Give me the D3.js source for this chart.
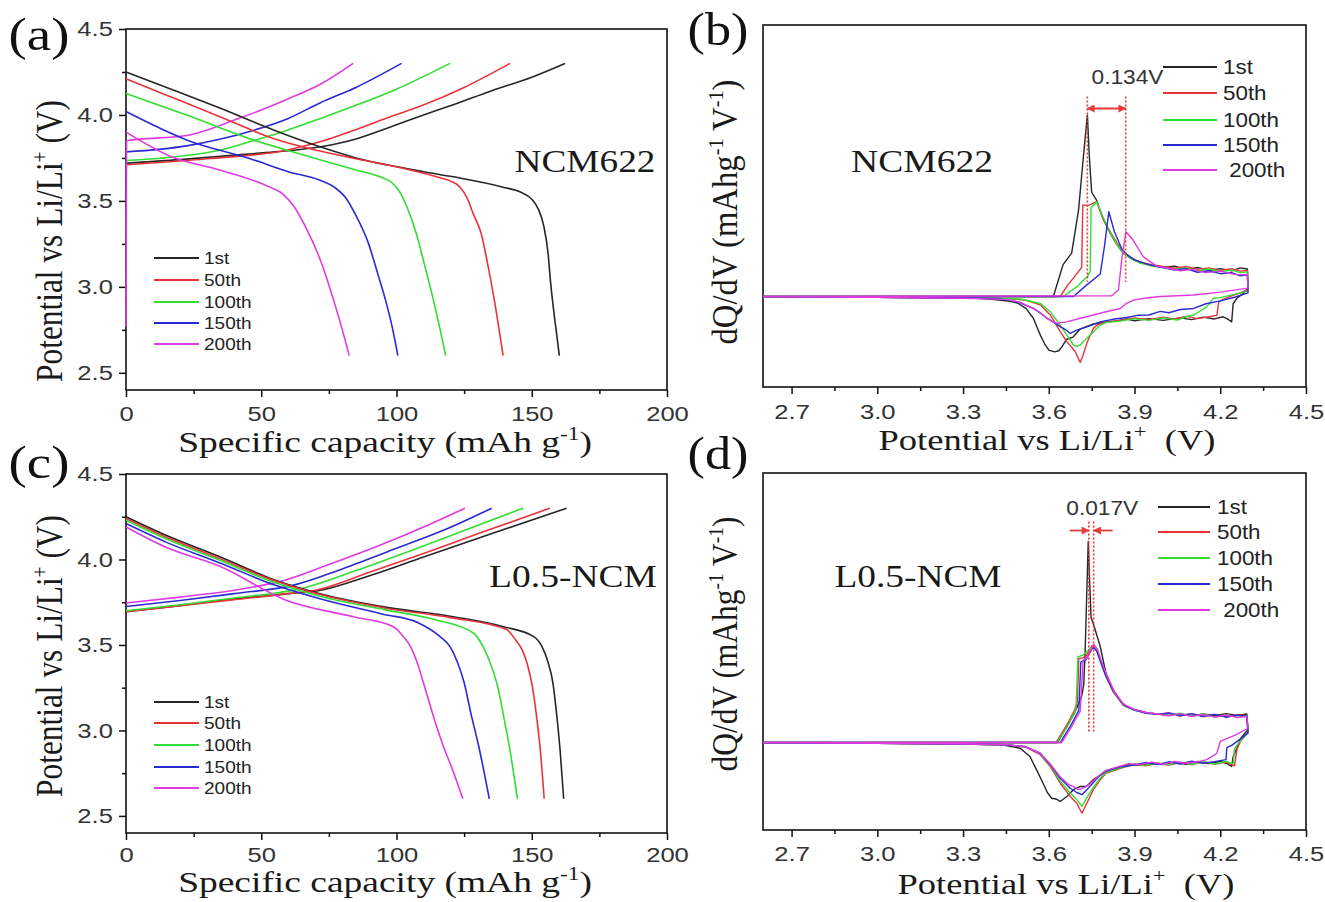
<!DOCTYPE html>
<html>
<head>
<meta charset="utf-8">
<script src="https://d3js.org/d3.v7.min.js"></script>
<style>
body { margin: 0; background: #fff; }
text { white-space: pre; }
</style>
</head>
<body>
<svg id="fig"></svg>
<script>

// ---- data ----
var cycles = ["1st", "50th", "100th", "150th", "200th"];
var dqLegend = ["1st", "50th", "100th", "150th", " 200th"];
var cycleColors = ["#262626", "#e8333a", "#33dd33", "#2a2ad2", "#e03ae0"];

var capTicks = [0, 50, 100, 150, 200];
var capMinor = [25, 75, 125, 175];
var voltTicks = [2.5, 3.0, 3.5, 4.0, 4.5];
var voltMinor = [2.75, 3.25, 3.75, 4.25];
var potTicks = [2.7, 3.0, 3.3, 3.6, 3.9, 4.2, 4.5];
var potMinor = [2.85, 3.15, 3.45, 3.75, 4.05, 4.35];

// capacity (mAh/g), potential (V)
var ncmCharge = [
  [[0,3.72],[20,3.74],[35,3.76],[55,3.785],[72,3.815],[85,3.86],[96,3.92],[110,4.0],[121,4.06],[135,4.14],[150,4.22],[162.3,4.30]],
  [[0,3.71],[30,3.745],[59.4,3.795],[72,3.845],[84,3.91],[96,3.98],[108.7,4.05],[125,4.16],[142,4.30]],
  [[0,3.735],[20,3.76],[34.7,3.795],[47,3.85],[59.4,3.91],[72,3.98],[84,4.05],[100,4.15],[119.8,4.30]],
  [[0,3.785],[22.4,3.82],[35,3.86],[47,3.91],[60,3.98],[71.7,4.07],[85,4.16],[101.9,4.30]],
  [[0,2.77],[0.2,3.85],[22.4,3.88],[40.9,3.975],[59.4,4.09],[72,4.18],[84,4.30]]
];
var ncmDischarge = [
  [[0,4.25],[15,4.16],[34.7,4.04],[55,3.91],[71.7,3.815],[85,3.75],[96.4,3.71],[110,3.67],[121,3.64],[139.4,3.58],[146,3.55],[150,3.51],[152.5,3.45],[154.5,3.35],[156,3.2],[157,3.02],[158.6,2.8],[160.2,2.6]],
  [[0,4.21],[15,4.115],[34.7,3.99],[55,3.86],[71.7,3.79],[85,3.745],[96.4,3.71],[114.8,3.64],[120,3.615],[123.5,3.58],[126,3.52],[128.5,3.42],[131.3,3.31],[133.5,3.15],[136.2,2.92],[139.4,2.6]],
  [[0,4.125],[22.4,4.0],[47,3.855],[71.7,3.74],[85,3.68],[93.9,3.64],[98,3.61],[101.3,3.55],[104,3.46],[107.3,3.31],[110.5,3.12],[113.7,2.92],[116,2.76],[118.2,2.6]],
  [[0,4.02],[22.4,3.855],[47,3.74],[60,3.67],[71.7,3.62],[77,3.58],[81.6,3.51],[84.5,3.43],[89.7,3.25],[93,3.08],[96,2.92],[98.5,2.76],[100.5,2.6]],
  [[0,3.90],[16.3,3.76],[34.7,3.68],[53.2,3.58],[58,3.54],[62,3.47],[66,3.36],[72,3.15],[76.8,2.92],[79.8,2.76],[82.5,2.6]]
];
var lncmCharge = [
  [[0,3.695],[20,3.73],[40,3.77],[60,3.80],[72,3.82],[90,3.905],[110,4.015],[135,4.15],[162.9,4.30]],
  [[0,3.695],[20,3.73],[40,3.765],[60,3.80],[70,3.82],[90,3.925],[110,4.035],[130,4.15],[156.7,4.30]],
  [[0,3.70],[20,3.735],[40,3.775],[60,3.815],[66,3.835],[85,3.935],[105,4.05],[125,4.17],[146.9,4.30]],
  [[0,3.725],[20,3.76],[40,3.80],[62,3.85],[80,3.945],[100,4.065],[118,4.175],[135.2,4.30]],
  [[0,3.745],[20,3.78],[40,3.82],[59,3.88],[75,3.97],[95,4.09],[110,4.19],[125.3,4.30]]
];
var lncmDischarge = [
  [[0,4.25],[15,4.14],[34.7,4.016],[55,3.88],[71.7,3.80],[96.4,3.72],[121,3.665],[139.5,3.607],[150.6,3.55],[153.8,3.49],[156,3.40],[157.8,3.28],[159.3,3.08],[160.5,2.88],[161.8,2.6]],
  [[0,4.24],[15,4.13],[34.7,4.005],[55,3.875],[71.7,3.795],[96,3.715],[120,3.66],[140.7,3.59],[144,3.53],[146.5,3.47],[148.5,3.38],[150.3,3.25],[151.8,3.08],[153.2,2.88],[154.6,2.6]],
  [[0,4.23],[15,4.12],[34.7,3.995],[55,3.865],[71.7,3.785],[96,3.705],[115,3.645],[128.4,3.57],[132,3.49],[135,3.38],[137.5,3.25],[140,3.05],[142,2.88],[144.7,2.6]],
  [[0,4.21],[15,4.10],[34.7,3.98],[55,3.85],[71.7,3.77],[95,3.68],[108,3.63],[116,3.55],[119.8,3.49],[122.5,3.4],[125,3.28],[127.5,3.1],[130.5,2.9],[134.3,2.6]],
  [[0,4.19],[15,4.07],[34.7,3.96],[59.4,3.76],[84,3.665],[98.8,3.607],[102.5,3.55],[105.5,3.48],[108,3.38],[110.5,3.25],[113.7,3.08],[117.5,2.9],[120.5,2.78],[124.5,2.6]]
];

// potential (V), dQ/dV (arb.) : charge branch then discharge branch
var ncmDqdv = [
  [[2.6,0],[3.616,0],[3.65,88],[3.68,120],[3.704,238],[3.72,377],[3.735,501],[3.742,385],[3.75,288],[3.767,266],[3.79,214],[3.814,176],[3.84,142],[3.86,120],[3.89,104],[3.92,93],[3.96,86],[4.0,80],[4.04,84],[4.08,75],[4.12,80],[4.16,72],[4.2,77],[4.24,71],[4.27,79],[4.295,76],[4.297,23],
   [4.28,8],[4.258,-5],[4.245,-20],[4.24,-70],[4.225,-62],[4.21,-56],[4.18,-62],[4.14,-57],[4.1,-64],[4.06,-59],[4.0,-66],[3.95,-61],[3.9,-67],[3.873,-62],[3.83,-68],[3.79,-72],[3.756,-76],[3.71,-90],[3.685,-112],[3.663,-118],[3.645,-140],[3.635,-150],[3.62,-153],[3.60,-148],[3.585,-130],[3.57,-106],[3.546,-60],[3.52,-33],[3.49,-18],[3.466,-13],[3.4,-8],[3.35,-5],[3.2,-4],[3.0,-2],[2.8,-2],[2.6,-1]],
  [[2.6,0],[3.64,0],[3.665,30],[3.69,55],[3.715,80],[3.719,253],[3.735,251],[3.75,255],[3.767,262],[3.79,216],[3.814,180],[3.84,146],[3.86,123],[3.89,106],[3.92,95],[3.96,88],[4.0,83],[4.04,78],[4.08,83],[4.12,75],[4.16,79],[4.2,72],[4.24,77],[4.27,70],[4.295,72],[4.297,20],
   [4.27,10],[4.24,2],[4.21,-8],[4.195,-15],[4.188,-52],[4.16,-56],[4.12,-61],[4.08,-55],[4.04,-62],[4.0,-57],[3.95,-64],[3.9,-59],[3.85,-66],[3.8,-70],[3.77,-78],[3.756,-88],[3.735,-125],[3.72,-162],[3.71,-182],[3.7,-165],[3.692,-152],[3.675,-135],[3.663,-125],[3.64,-97],[3.62,-70],[3.605,-51],[3.57,-23],[3.52,-10],[3.45,-6],[3.3,-4],[3.0,-2],[2.8,-2],[2.6,-1]],
  [[2.6,0],[3.651,0],[3.675,14],[3.70,28],[3.735,55],[3.745,70],[3.748,245],[3.768,262],[3.79,218],[3.814,178],[3.84,142],[3.86,120],[3.89,103],[3.92,93],[3.96,84],[4.0,80],[4.04,75],[4.08,79],[4.12,71],[4.16,76],[4.2,69],[4.24,73],[4.27,66],[4.295,68],[4.297,15],
   [4.2,-3],[4.176,-5],[4.153,-28],[4.13,-40],[4.107,-51],[4.08,-56],[4.05,-65],[4.0,-59],[3.95,-66],[3.9,-61],[3.85,-68],[3.8,-72],[3.78,-79],[3.755,-98],[3.733,-115],[3.71,-134],[3.698,-138],[3.686,-134],[3.663,-106],[3.64,-79],[3.62,-58],[3.605,-42],[3.57,-19],[3.5,-7],[3.4,-5],[3.2,-3],[3.0,-2],[2.6,-1]],
  [[2.6,0],[3.686,0],[3.73,30],[3.78,62],[3.795,140],[3.81,234],[3.83,178],[3.855,132],[3.875,115],[3.9,101],[3.95,88],[4.0,80],[4.04,73],[4.08,77],[4.12,67],[4.16,71],[4.2,63],[4.24,66],[4.27,57],[4.295,60],[4.297,10],
   [4.25,-2],[4.2,-12],[4.15,-20],[4.107,-33],[4.06,-36],[4.02,-45],[3.99,-41],[3.95,-51],[3.91,-52],[3.873,-58],[3.83,-62],[3.78,-70],[3.74,-82],[3.698,-93],[3.675,-102],[3.66,-92],[3.64,-83],[3.615,-70],[3.593,-60],[3.57,-45],[3.546,-33],[3.488,-14],[3.42,-6],[3.3,-4],[3.0,-2],[2.6,-1]],
  [[2.6,0],[3.82,2],[3.844,18],[3.855,101],[3.87,179],[3.895,156],[3.93,110],[3.977,84],[4.02,78],[4.06,71],[4.1,75],[4.15,66],[4.2,70],[4.25,61],[4.295,60],[4.297,23],
   [4.2,12],[4.107,4],[4.05,2],[3.99,0],[3.94,-4],[3.896,-10],[3.87,-20],[3.85,-33],[3.8,-42],[3.756,-51],[3.71,-60],[3.663,-70],[3.628,-74],[3.61,-68],[3.593,-60],[3.57,-45],[3.546,-33],[3.5,-16],[3.45,-8],[3.3,-5],[3.0,-2],[2.6,-1]]
];
var lncmDqdv = [
  [[2.6,0],[3.63,0],[3.66,40],[3.69,82],[3.715,130],[3.722,160],[3.727,250],[3.733,420],[3.738,563],[3.743,450],[3.748,350],[3.757,330],[3.766,306],[3.78,269],[3.80,194],[3.825,148],[3.85,118],[3.87,101],[3.9,92],[3.94,84],[3.98,80],[4.02,76],[4.06,81],[4.1,74],[4.14,80],[4.18,75],[4.22,81],[4.26,76],[4.293,80],[4.297,36],
   [4.27,10],[4.258,-16],[4.245,-40],[4.24,-67],[4.22,-58],[4.2,-53],[4.16,-59],[4.12,-53],[4.08,-61],[4.04,-55],[4.0,-62],[3.96,-57],[3.92,-64],[3.88,-61],[3.85,-68],[3.815,-76],[3.79,-86],[3.756,-104],[3.733,-122],[3.71,-123],[3.686,-132],[3.663,-151],[3.64,-165],[3.625,-158],[3.61,-156],[3.595,-140],[3.58,-114],[3.557,-76],[3.534,-39],[3.5,-16],[3.44,-7],[3.3,-4],[3.0,-2],[2.6,-1]],
  [[2.6,0],[3.625,0],[3.66,45],[3.69,90],[3.70,115],[3.705,235],[3.72,238],[3.73,242],[3.752,272],[3.765,262],[3.78,232],[3.80,185],[3.825,142],[3.86,105],[3.9,92],[3.94,84],[3.98,79],[4.02,83],[4.06,75],[4.1,81],[4.14,73],[4.18,79],[4.22,72],[4.26,78],[4.293,75],[4.297,30],
   [4.27,2],[4.258,-20],[4.25,-65],[4.22,-55],[4.18,-61],[4.14,-54],[4.1,-62],[4.06,-56],[4.02,-63],[3.98,-58],[3.94,-65],[3.9,-61],[3.85,-72],[3.8,-86],[3.78,-104],[3.756,-132],[3.733,-170],[3.716,-198],[3.698,-170],[3.675,-151],[3.64,-114],[3.605,-67],[3.57,-34],[3.52,-13],[3.45,-6],[3.3,-4],[3.0,-2],[2.6,-1]],
  [[2.6,0],[3.628,0],[3.665,45],[3.695,92],[3.702,240],[3.72,245],[3.755,270],[3.768,258],[3.78,230],[3.80,188],[3.825,145],[3.86,106],[3.9,90],[3.94,83],[3.98,80],[4.02,76],[4.06,82],[4.1,74],[4.14,80],[4.18,72],[4.22,78],[4.26,71],[4.293,76],[4.297,28],
   [4.265,0],[4.25,-18],[4.245,-60],[4.22,-53],[4.18,-60],[4.14,-53],[4.1,-61],[4.06,-55],[4.02,-62],[3.98,-57],[3.94,-64],[3.9,-60],[3.85,-70],[3.8,-84],[3.78,-100],[3.756,-125],[3.733,-155],[3.716,-179],[3.698,-160],[3.675,-142],[3.64,-108],[3.605,-64],[3.57,-32],[3.52,-12],[3.45,-6],[3.3,-4],[3.0,-2],[2.6,-1]],
  [[2.6,0],[3.64,0],[3.675,45],[3.705,90],[3.712,225],[3.73,232],[3.755,268],[3.768,256],[3.78,228],[3.80,186],[3.825,146],[3.86,106],[3.9,91],[3.94,82],[3.98,79],[4.02,83],[4.06,75],[4.1,81],[4.14,73],[4.18,79],[4.22,71],[4.26,77],[4.293,74],[4.297,26],
   [4.24,-8],[4.223,-14],[4.22,-48],[4.18,-54],[4.14,-58],[4.1,-52],[4.06,-60],[4.02,-54],[3.98,-62],[3.94,-56],[3.9,-63],[3.85,-68],[3.8,-80],[3.78,-92],[3.756,-112],[3.733,-132],[3.716,-146],[3.698,-140],[3.675,-128],[3.64,-100],[3.605,-62],[3.57,-30],[3.52,-12],[3.45,-6],[3.3,-4],[3.0,-2],[2.6,-1]],
  [[2.6,0],[3.645,0],[3.68,45],[3.71,88],[3.72,230],[3.735,238],[3.757,275],[3.77,262],[3.785,226],[3.805,184],[3.83,142],[3.86,108],[3.9,92],[3.94,84],[3.98,80],[4.02,75],[4.06,81],[4.1,73],[4.14,79],[4.18,71],[4.22,77],[4.26,70],[4.293,73],[4.297,40],
   [4.25,20],[4.2,3],[4.188,-30],[4.153,-48],[4.12,-54],[4.08,-58],[4.04,-53],[4.0,-61],[3.96,-55],[3.92,-62],[3.88,-59],[3.85,-66],[3.8,-78],[3.78,-90],[3.756,-108],[3.73,-124],[3.704,-132],[3.69,-125],[3.67,-118],[3.64,-96],[3.605,-60],[3.57,-30],[3.52,-12],[3.45,-6],[3.3,-4],[3.0,-2],[2.6,-1]]
];

// peak shift markers: [left line, right line] in V, and the labels
var ncmShift = [3.735, 3.869];
var lncmShift = [3.740, 3.757];
var shiftLabels = ["0.134V", "0.017V"];
var sampleNames = ["NCM622", "L0.5-NCM"];
var panelLetters = ["(a)", "(b)", "(c)", "(d)"];

// ---- drawing ----
var sans = "'Liberation Sans', Arial, sans-serif";
var serif = "'Liberation Serif', 'Times New Roman', serif";
var red = "#e53b3b";

var svg = d3.select("#fig").attr("width", 1325).attr("height", 902);

svg.append("defs").append("marker")
	.attr("id", "head")
	.attr("viewBox", "0 0 10 10")
	.attr("refX", 9).attr("refY", 5)
	.attr("markerWidth", 9).attr("markerHeight", 8)
	.attr("markerUnits", "userSpaceOnUse")
	.attr("orient", "auto-start-reverse")
	.append("path").attr("d", "M0,0L10,5L0,10z").attr("fill", red);

function addText(g, parts, size, family) {
	var t = g.append("text").attr("font-size", size).attr("font-family", family)
		.attr("text-anchor", "middle").attr("fill", "#1a1a1a");
	var up = false;
	parts.forEach(function (p) {
		var sup = p.charAt(0) === "^";
		var s = t.append("tspan").text(sup ? p.slice(1) : p);
		if (sup) {
			s.attr("font-size", size * 0.62);
			if (!up) { s.attr("dy", -size * 0.4); up = true; }
		} else if (up) {
			s.attr("dy", size * 0.4); up = false;
		}
	});
	return t;
}

// stretch a text to a measured length (the figure is wider than its fonts)
function fit(t, cx, base, len, rot, thick) {
	var s = len / t.node().getComputedTextLength();
	if (rot) t.attr("transform", "translate(" + cx + "," + base + ") rotate(-90) scale(" + s + "," + thick + ")");
	else t.attr("transform", "translate(" + cx + "," + base + ") scale(" + s + ",1)");
}

function frame(g, x, y) {
	var r = x.range(), t = y.range();
	g.append("rect")
		.attr("x", r[0]).attr("y", t[1])
		.attr("width", r[1] - r[0]).attr("height", t[0] - t[1])
		.attr("fill", "none").attr("stroke", "#111").attr("stroke-width", 1.6);
}

function styleTicks(ax) {
	ax.select(".domain").remove();
	ax.selectAll(".tick line").attr("stroke", "#111").attr("stroke-width", 1.5);
}

function xAxis(g, x, y, major, minor, fmt, off) {
	var base = y.range()[0];
	var ax = g.append("g").attr("transform", "translate(0," + base + ")")
		.call(d3.axisBottom(x).tickValues(major).tickSize(7).tickSizeOuter(0).tickFormat(fmt));
	styleTicks(ax);
	ax.selectAll(".tick text")
		.attr("y", off).attr("dy", 0)
		.attr("font-size", 20).attr("font-family", sans).attr("fill", "#333")
		.attr("transform", "scale(1.28,1)");
	var mn = g.append("g").attr("transform", "translate(0," + base + ")")
		.call(d3.axisBottom(x).tickValues(minor).tickSize(4).tickSizeOuter(0).tickFormat(""));
	styleTicks(mn);
}

function yAxis(g, x, y, major, minor, fmt) {
	var left = x.range()[0];
	var ax = g.append("g").attr("transform", "translate(" + left + ",0)")
		.call(d3.axisLeft(y).tickValues(major).tickSize(7).tickSizeOuter(0).tickFormat(fmt));
	styleTicks(ax);
	ax.selectAll(".tick text")
		.attr("x", -10.2).attr("dy", "0.34em")
		.attr("font-size", 20).attr("font-family", sans).attr("fill", "#333")
		.attr("transform", "scale(1.28,1)");
	var mn = g.append("g").attr("transform", "translate(" + left + ",0)")
		.call(d3.axisLeft(y).tickValues(minor).tickSize(4).tickSizeOuter(0).tickFormat(""));
	styleTicks(mn);
}

function legend(g, rows, x0, x1, tx, size, labels, sx) {
	labels.forEach(function (lab, i) {
		g.append("line")
			.attr("x1", x0).attr("x2", x1).attr("y1", rows[i]).attr("y2", rows[i])
			.attr("stroke", cycleColors[i]).attr("stroke-width", 2);
		g.append("text")
			.attr("transform", "translate(" + tx + "," + (rows[i] + size * 0.36) + ") scale(" + sx + ",1)")
			.attr("font-size", size).attr("font-family", sans).attr("fill", "#222")
			.text(lab);
	});
}

function letter(g, txt, x, base) {
	var t = g.append("text").attr("font-size", 46).attr("font-family", serif)
		.attr("fill", "#111").attr("text-anchor", "middle").text(txt);
	fit(t, x, base, 61, false);
}

// capacity panels (a) and (c)
function capacityPanel(top, bottom, charge, discharge, name, nameBox, legendRows, titleBase, tickOff, ylabCenter, let, letBase) {
	var g = svg.append("g");
	var x = d3.scaleLinear().domain([0, 200]).range([126, 667]);
	var y = d3.scaleLinear().domain([2.4, 4.5]).range([bottom, top]);
	frame(g, x, y);
	xAxis(g, x, y, capTicks, capMinor, d3.format("d"), tickOff);
	yAxis(g, x, y, voltTicks, voltMinor, d3.format(".1f"));

	var line = d3.line().x(function (d) { return x(d[0]); }).y(function (d) { return y(d[1]); })
		.curve(d3.curveMonotoneX);
	[charge, discharge].forEach(function (set) {
		g.selectAll(null).data(set).enter().append("path")
			.attr("d", line)
			.attr("fill", "none")
			.attr("stroke", function (d, i) { return cycleColors[i]; })
			.attr("stroke-width", 1.6);
	});

	legend(g, legendRows, 154, 199, 204, 17, cycles, 1.12);

	var nm = g.append("text").attr("font-size", 32).attr("font-family", serif)
		.attr("fill", "#1a1a1a").attr("text-anchor", "middle").text(name);
	fit(nm, nameBox[0], nameBox[1], nameBox[2], false);

	var xt = addText(g, ["Specific capacity (mAh g", "^-1", ")"], 29, serif);
	fit(xt, 385, titleBase, 414, false);
	var yt = addText(g, ["Potential vs Li/Li", "^+", " (V)"], 31, serif);
	fit(yt, 62, ylabCenter, 282, true, 1.2);

	letter(g, let, 39, letBase);
}

// dQ/dV panels (b) and (d)
function dqdvPanel(top, bottom, yDom, data, shift, shiftLabel, name, nameBox, legendRows, legX, titleBase, tickOff, ylab, let, letBase, twoArrows) {
	var g = svg.append("g");
	var x = d3.scaleLinear().domain([2.6, 4.5]).range([763, 1306]);
	var y = d3.scaleLinear().domain(yDom).range([bottom, top]);
	frame(g, x, y);
	xAxis(g, x, y, potTicks, potMinor, d3.format(".1f"), tickOff);

	var line = d3.line().x(function (d) { return x(d[0]); }).y(function (d) { return y(d[1]); });
	g.selectAll(null).data(data).enter().append("path")
		.attr("d", line)
		.attr("fill", "none")
		.attr("stroke", function (d, i) { return cycleColors[i]; })
		.attr("stroke-width", 1.4)
		.attr("stroke-linejoin", "round");

	// dotted markers at the oxidation peaks
	var lineTop = y.invert(y(0) - (twoArrows ? 221 : 200));
	shift.forEach(function (v) {
		g.append("line")
			.attr("x1", x(v)).attr("x2", x(v))
			.attr("y1", y(lineTop)).attr("y2", y(twoArrows ? 30 : 40))
			.attr("stroke", red).attr("stroke-width", 1.6).attr("stroke-dasharray", "2,2");
	});
	var ay = y(lineTop) + (twoArrows ? 9 : 12);
	if (twoArrows) {
		g.append("line").attr("x1", x(shift[0]) - 19).attr("x2", x(shift[0]))
			.attr("y1", ay).attr("y2", ay).attr("stroke", red).attr("stroke-width", 1.8)
			.attr("marker-end", "url(#head)");
		g.append("line").attr("x1", x(shift[1]) + 19).attr("x2", x(shift[1]))
			.attr("y1", ay).attr("y2", ay).attr("stroke", red).attr("stroke-width", 1.8)
			.attr("marker-end", "url(#head)");
	} else {
		g.append("line").attr("x1", x(shift[0])).attr("x2", x(shift[1]))
			.attr("y1", ay).attr("y2", ay).attr("stroke", red).attr("stroke-width", 1.8)
			.attr("marker-start", "url(#head)").attr("marker-end", "url(#head)");
	}
	var sl = g.append("text").attr("font-size", 20).attr("font-family", sans)
		.attr("fill", "#333").attr("text-anchor", "middle").text(shiftLabel);
	fit(sl, (x(shift[0]) + x(shift[1])) / 2 + (twoArrows ? 11 : 21), ay - (twoArrows ? 16 : 25), 72, false);

	legend(g, legendRows, legX[0], legX[1], legX[2], 20, dqLegend, 1.12);

	var nm = g.append("text").attr("font-size", 32).attr("font-family", serif)
		.attr("fill", "#1a1a1a").attr("text-anchor", "middle").text(name);
	fit(nm, nameBox[0], nameBox[1], nameBox[2], false);

	var xt = addText(g, ["Potential vs Li/Li", "^+", "  (V)"], 29, serif);
	fit(xt, titleBase[0], titleBase[1], 337, false);
	var yt = addText(g, ["dQ/dV (mAhg", "^-1", " V", "^-1", ")"], 29, serif);
	fit(yt, 737, ylab[0], ylab[1], true, 1.2);

	letter(g, let, 718, letBase);
}

capacityPanel(29, 390, ncmCharge, ncmDischarge, sampleNames[0], [585, 172, 141],
	[258, 280, 302, 323, 344], 452, 31, 241, panelLetters[0], 50);
capacityPanel(474, 833, lncmCharge, lncmDischarge, sampleNames[1], [573, 587, 168],
	[702, 723, 745, 767, 788], 892, 29, 656, panelLetters[2], 478);
dqdvPanel(25, 387, [-250, 750], ncmDqdv, ncmShift, shiftLabels[0], sampleNames[0], [922, 172, 142],
	[67, 93, 120, 145, 170], [1163, 1217, 1223], [1047, 450], 32, [212, 265], panelLetters[1], 45, false);
dqdvPanel(473, 830, [-245, 755], lncmDqdv, lncmShift, shiftLabels[1], sampleNames[1], [918, 587, 167],
	[507, 532, 558, 584, 610], [1158, 1210, 1217], [1066, 894], 31, [644, 255], panelLetters[3], 469, true);

</script>
</body>
</html>
